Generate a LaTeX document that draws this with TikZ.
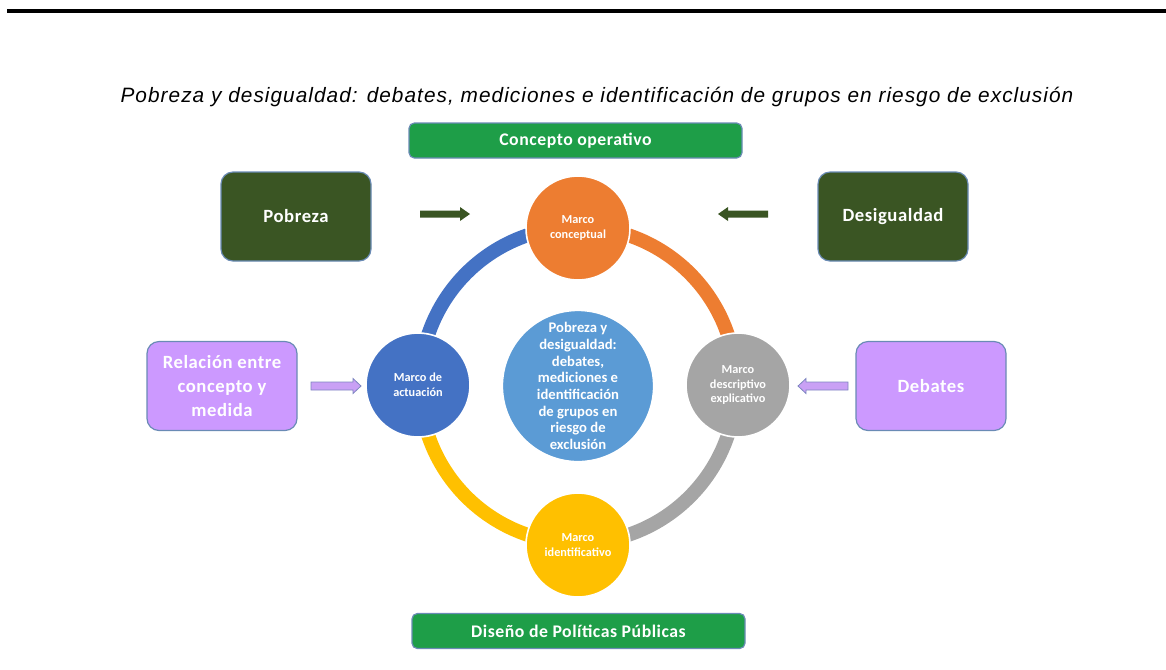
\documentclass[tikz,border=0pt]{standalone}
\usepackage{fontspec}
\setmainfont{Carlito}
\newfontfamily\titlefont[LetterSpace=5]{Liberation Sans}
\newfontfamily\boxfont[LetterSpace=3]{Carlito}
\usetikzlibrary{calc}
\definecolor{cgreen}{HTML}{1E9E48}
\definecolor{dgreen}{HTML}{3A5523}
\definecolor{lpurple}{HTML}{CC99FF}
\definecolor{bordblue}{HTML}{6A8BB5}
\definecolor{corange}{HTML}{ED7D31}
\definecolor{cgray}{HTML}{A5A5A5}
\definecolor{cyellow}{HTML}{FFC000}
\definecolor{cblue}{HTML}{4472C4}
\definecolor{clight}{HTML}{5B9BD5}
\definecolor{arrowpurple}{HTML}{C9A0F5}
\definecolor{arrowedge}{HTML}{7D86C0}
\begin{document}
\begin{tikzpicture}[x=0.75pt,y=-0.75pt,
  box/.style={draw=bordblue, line width=0.9pt, rounded corners=9pt, text=white,
    font=\boxfont\bfseries\fontsize{14}{18}\selectfont, align=center, inner sep=0pt},
  sidebox/.style={box, minimum width=150*0.75pt, minimum height=89*0.75pt},
  barbox/.style={box, fill=cgreen, rounded corners=4pt, minimum height=35*0.75pt,
    font=\boxfont\bfseries\fontsize{13.3}{15}\selectfont},
  frame/.style={circle, draw=white, line width=1.2pt, minimum size=104*0.75pt,
    inner sep=0pt, text=white, align=center, font=\bfseries\fontsize{9.2}{11}\selectfont},
  ring/.style={line width=10.5pt},
]
\useasboundingbox (0,0) rectangle (1166,669);
% top rule
\draw[line width=3pt] (7,11) -- (1166,11);
% title
\node (title) at (597,97) {\titlefont\itshape\fontsize{15.6}{18}\selectfont Pobreza y desigualdad: debates, mediciones e identificación de grupos en riesgo de exclusión};
% ring
\begin{scope}[shift={(578,385)}, x=0.75pt, y=0.75pt]
  \draw[ring, corange] (90:158) arc (90:0:158);
  \draw[ring, cgray] (0:158) arc (0:-90:158);
  \draw[ring, cyellow] (-90:158) arc (-90:-180:158);
  \draw[ring, cblue] (180:158) arc (180:90:158);
\end{scope}
% circles
\node[frame, fill=corange] (mc) at (578,228) {Marco\\conceptual};
\node[frame, fill=cgray] (md) at (738,385) {Marco\\descriptivo\\explicativo};
\node[frame, fill=cyellow] (mi) at (578,545) {Marco\\identificativo};
\node[frame, fill=cblue] (ma) at (418,385) {Marco de\\actuación};
\node[circle, fill=clight, draw=white, line width=1.2pt, minimum size=150*0.75pt, inner sep=0pt,
  text=white, align=center, font=\bfseries\fontsize{11}{12.5}\selectfont] (center) at (578,386)
  {Pobreza y\\desigualdad:\\debates,\\mediciones e\\identificación\\de grupos en\\riesgo de\\exclusión};
% boxes
\node[barbox, minimum width=333*0.75pt] (co) at (575.5,140.5) {Concepto operativo};
\node[barbox, minimum width=333*0.75pt] (dp) at (578.5,631) {Diseño de Políticas Públicas};
\node[sidebox, fill=dgreen] (pob) at (296,216.5) {Pobreza};
\node[sidebox, fill=dgreen] (des) at (893,216.5) {Desigualdad};
\node[sidebox, fill=lpurple] (rel) at (222,386) {Relación entre\\concepto y\\medida};
\node[sidebox, fill=lpurple] (deb) at (931,386) {Debates};
% block arrows
\coordinate (a1) at (420,214);
\coordinate (a2) at (768,214);
\coordinate (a3) at (311,386);
\coordinate (a4) at (848,386);
\fill[dgreen] (a1) ++(0,-3.5) -- ++(40,0) -- ++(0,-3.5) -- ++(10,7) -- ++(-10,7) -- ++(0,-3.5) -- ++(-40,0) -- cycle;
\fill[dgreen] (a2) ++(0,-3.5) -- ++(-40,0) -- ++(0,-3.5) -- ++(-10,7) -- ++(10,7) -- ++(0,-3.5) -- ++(40,0) -- cycle;
\filldraw[fill=arrowpurple, draw=arrowedge, line width=0.6pt] (a3) ++(0,-4) -- ++(42,0) -- ++(0,-3.5) -- ++(8,7.5) -- ++(-8,7.5) -- ++(0,-3.5) -- ++(-42,0) -- cycle;
\filldraw[fill=arrowpurple, draw=arrowedge, line width=0.6pt] (a4) ++(0,-4) -- ++(-42,0) -- ++(0,-3.5) -- ++(-8,7.5) -- ++(8,7.5) -- ++(0,-3.5) -- ++(42,0) -- cycle;
\end{tikzpicture}
\end{document}
